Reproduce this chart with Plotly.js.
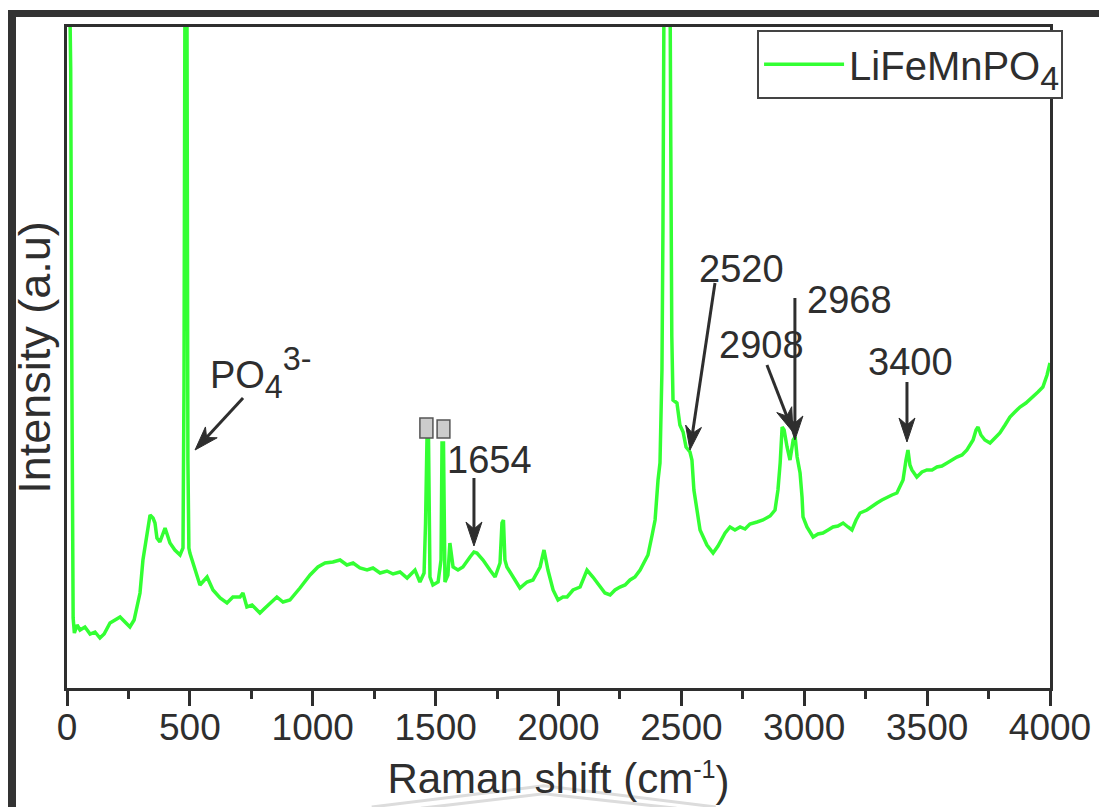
<!DOCTYPE html>
<html>
<head>
<meta charset="utf-8">
<script src="https://cdn.plot.ly/plotly-3.0.1.min.js"></script>
<style>
  html, body { margin: 0; padding: 0; background: #ffffff; }
  #wrap { position: relative; width: 1099px; height: 807px; overflow: hidden; }
  #chart { position: absolute; left: 0; top: 0; width: 1099px; height: 807px; }
  #frame { position: absolute; left: 8px; top: 10px; width: 1100px; height: 795px;
           border-left: 8px solid #333333; border-top: 7px solid #333333; border-bottom: 2px solid #555555;
           pointer-events: none; }
</style>
</head>
<body>
<div id="wrap">
  <div id="chart"></div>
  <div id="frame"></div>
</div>
<script>
// Raman shift (cm^-1)
const ramanShift = [
  0, 10, 15, 20, 25, 30, 41, 53, 73, 94, 114, 134, 151, 175, 195, 216, 236, 256, 273, 285,
  297, 309, 326, 338, 350, 358, 366, 378, 399, 419, 439, 460, 472, 476, 482, 488, 492, 496, 500, 521,
  541, 570, 594, 623, 651, 675, 704, 716, 732, 753, 785, 806, 826, 854, 879, 907, 948, 989, 1021, 1050,
  1082, 1111, 1139, 1164, 1192, 1221, 1245, 1274, 1302, 1327, 1355, 1384, 1416, 1436, 1453, 1459, 1465, 1471, 1477, 1489,
  1510, 1522, 1526, 1532, 1538, 1550, 1558, 1565, 1571, 1591, 1611, 1640, 1656, 1668, 1693, 1721, 1742, 1762, 1770, 1776,
  1782, 1790, 1815, 1843, 1872, 1896, 1925, 1941, 1957, 1978, 1998, 2018, 2035, 2059, 2088, 2116, 2140, 2169, 2189, 2210,
  2230, 2250, 2271, 2291, 2311, 2332, 2352, 2364, 2381, 2393, 2405, 2413, 2421, 2425, 2433, 2450, 2457, 2461, 2466, 2482,
  2494, 2507, 2519, 2535, 2543, 2551, 2576, 2604, 2629, 2649, 2678, 2698, 2718, 2739, 2759, 2779, 2808, 2832, 2861, 2881,
  2893, 2902, 2910, 2918, 2930, 2942, 2955, 2963, 2971, 2983, 2991, 2995, 3011, 3036, 3056, 3076, 3097, 3117, 3137, 3158,
  3178, 3194, 3211, 3227, 3255, 3276, 3296, 3316, 3337, 3357, 3377, 3402, 3414, 3422, 3430, 3438, 3458, 3479, 3499, 3520,
  3540, 3560, 3581, 3601, 3621, 3642, 3662, 3687, 3699, 3707, 3719, 3735, 3756, 3776, 3796, 3817, 3837, 3857, 3878, 3902,
  3931, 3951, 3971, 3988, 4000
];
// Intensity (a.u.)
const intensity = [
  900, 680, 620, 300, 70, 55, 63, 58, 61, 54, 56, 50, 54, 65, 68, 71, 66, 61, 68, 83,
  95, 128, 158, 173, 170, 165, 150, 146, 160, 145, 138, 133, 140, 300, 900, 700, 228, 140, 135, 118,
  103, 111, 98, 90, 85, 91, 91, 95, 81, 83, 75, 80, 85, 91, 86, 88, 100, 113, 121, 125,
  126, 128, 123, 125, 120, 118, 120, 115, 117, 114, 116, 110, 118, 106, 115, 165, 251, 251, 111, 103,
  106, 128, 245, 245, 106, 113, 145, 128, 121, 118, 121, 131, 136, 135, 128, 118, 111, 125, 165, 168,
  128, 121, 111, 100, 106, 108, 121, 138, 118, 98, 88, 91, 91, 98, 101, 118, 111, 101, 95, 93,
  98, 101, 103, 108, 111, 118, 128, 133, 153, 168, 208, 225, 318, 458, 900, 900, 541, 352, 288, 285,
  263, 256, 241, 236, 228, 198, 158, 143, 135, 142, 155, 161, 158, 161, 159, 164, 166, 168, 172, 178,
  198, 225, 261, 258, 241, 228, 248, 251, 231, 215, 191, 171, 161, 151, 154, 155, 158, 161, 162, 165,
  161, 158, 168, 175, 178, 182, 185, 188, 191, 193, 195, 208, 228, 238, 223, 218, 211, 216, 218, 218,
  221, 222, 225, 228, 231, 233, 238, 248, 258, 261, 253, 248, 245, 250, 255, 263, 271, 276, 281, 285,
  291, 296, 301, 313, 325
];
const seriesName = 'LiFeMnPO<sub>4</sub>';

// Peak annotations: label text, the point (x, intensity) the arrow points to, and label anchor
const peakLabels = ['PO<sub>4</sub><sup>3-</sup>', '1654', '2520', '2908', '2968', '3400'];
const peakArrowX = [521, 1656, 2535, 2954, 2962, 3418];
const peakArrowY = [238, 142, 238, 256, 248, 246];
const peakLabelX = [590, 1721, 2743, 2824, 3186, 3434];
const peakLabelY = [313, 228, 419, 343, 388, 326];

const ink = '#2e2e2e';
const fontFam = 'Arial, "Liberation Sans", sans-serif';

// ---- geometry / style (not data) ----
const W = 1099, H = 807;
const M = { l: 67, r: 49, t: 27, b: 119 };
const X_RANGE = [0, 4000], Y_RANGE = [0, 661];
const xPerPx = (X_RANGE[1] - X_RANGE[0]) / (W - M.l - M.r);
const yPerPx = (Y_RANGE[1] - Y_RANGE[0]) / (H - M.t - M.b);
// arrow tails (screen pixel offsets from the tip)
const tailAX = [48, 0, 25, -26, 0, 0];
const tailAY = [-52, -68, -167, -67, -142, -60];

const annotations = [];
const shapes = [];
const HEAD_L = 24, HEAD_W = 8, NOTCH = 7;
function toData(tx, ty, sx, sy) { return [tx + sx * xPerPx, ty - sy * yPerPx]; }
for (let i = 0; i < peakLabels.length; i++) {
  annotations.push({
    x: peakLabelX[i], y: peakLabelY[i], xref: 'x', yref: 'y',
    text: peakLabels[i], showarrow: false,
    xanchor: i === 0 ? 'left' : 'center', yanchor: 'middle',
    font: { family: fontFam, size: 38, color: ink }
  });
  // arrow: shaft + notched head, built from the tip and the tail offset
  const tx = peakArrowX[i], ty = peakArrowY[i];
  const dx = -tailAX[i], dy = -tailAY[i];
  const len = Math.hypot(dx, dy);
  const ux = dx / len, uy = dy / len;        // unit vector tail -> tip (screen)
  const nx = -uy, ny = ux;                    // normal
  const back = [-ux * HEAD_L, -uy * HEAD_L];
  const notch = [-ux * (HEAD_L - NOTCH), -uy * (HEAD_L - NOTCH)];
  const pL = toData(tx, ty, back[0] + nx * HEAD_W, back[1] + ny * HEAD_W);
  const pR = toData(tx, ty, back[0] - nx * HEAD_W, back[1] - ny * HEAD_W);
  const pN = toData(tx, ty, notch[0], notch[1]);
  const pT = toData(tx, ty, tailAX[i], tailAY[i]);
  shapes.push({
    type: 'line', xref: 'x', yref: 'y', x0: pT[0], y0: pT[1], x1: pN[0], y1: pN[1],
    line: { color: ink, width: 3 }
  });
  shapes.push({
    type: 'path', xref: 'x', yref: 'y',
    path: `M${tx},${ty} L${pL[0]},${pL[1]} L${pN[0]},${pN[1]} L${pR[0]},${pR[1]} Z`,
    fillcolor: ink, line: { color: ink, width: 1 }
  });
}
// the two unrendered-glyph boxes above the 1465 / 1530 peaks
shapes.push({ type: 'rect', xref: 'x', yref: 'y', x0: 1436, x1: 1489, y0: 250, y1: 270,
  fillcolor: '#cccccc', line: { color: '#555555', width: 1.5 } });
shapes.push({ type: 'rect', xref: 'x', yref: 'y', x0: 1506, x1: 1558, y0: 250, y1: 268,
  fillcolor: '#cccccc', line: { color: '#555555', width: 1.5 } });
// faint watermark chevrons behind the x title
const wm = [[0.31, -0.18, 0.485, -0.148, 0.66, -0.18], [0.36, -0.182, 0.485, -0.16, 0.62, -0.182]];
wm.forEach(p => {
  shapes.push({ type: 'path', xref: 'paper', yref: 'paper', layer: 'below',
    path: `M${p[0]},${p[1]} L${p[2]},${p[3]} L${p[4]},${p[5]}`,
    line: { color: '#dcdcdc', width: 3 } });
});

const trace = {
  x: ramanShift, y: intensity, type: 'scatter', mode: 'lines',
  name: seriesName,
  line: { color: '#33ff33', width: 3.5 },
  showlegend: true
};

const layout = {
  width: W, height: H,
  margin: { l: M.l, r: M.r, t: M.t, b: M.b, pad: 0 },
  paper_bgcolor: '#ffffff', plot_bgcolor: '#ffffff',
  showlegend: true,
  legend: {
    x: 0.702, y: 0.996, xanchor: 'left', yanchor: 'top',
    bgcolor: '#ffffff', bordercolor: '#444444', borderwidth: 2,
    font: { family: fontFam, size: 40, color: ink },
    itemwidth: 80
  },
  xaxis: {
    range: X_RANGE, dtick: 500, tick0: 0,
    showgrid: false, zeroline: false,
    showline: true, mirror: true, linecolor: ink, linewidth: 3,
    ticks: 'outside', ticklen: 15, tickwidth: 3, tickcolor: ink,
    minor: { dtick: 250, ticks: 'outside', ticklen: 8, tickwidth: 3, tickcolor: ink, showgrid: false },
    tickfont: { family: fontFam, size: 37, color: ink },
    ticklabelstandoff: -10,
    title: { text: 'Raman shift (cm<sup>-1</sup>)', font: { family: fontFam, size: 42, color: ink }, standoff: 0 },
    automargin: false
  },
  yaxis: {
    range: Y_RANGE,
    showgrid: false, zeroline: false,
    showline: true, mirror: true, linecolor: ink, linewidth: 3,
    ticks: '', showticklabels: false,
    title: { text: 'Intensity (a.u)', font: { family: fontFam, size: 45, color: ink }, standoff: 0 },
    automargin: false
  },
  annotations: annotations,
  shapes: shapes
};

function dyPx(el) {
  const v = el.getAttribute('dy');
  if (!v) return 0;
  const n = parseFloat(v);
  return /em$/.test(v) ? n * parseFloat(getComputedStyle(el).fontSize) : n;
}

Plotly.newPlot('chart', [trace], layout, { displayModeBar: false, staticPlot: true }).then(gd => {
  // drop empty placeholder texts
  gd.querySelectorAll('text').forEach(t => { if (!t.textContent.replace(/\u200b/g, '').trim()) t.remove(); });
  // give sub/superscripts an explicit pixel size (larger in legend / peak label, small in the axis title)
  gd.querySelectorAll('tspan').forEach(ts => {
    const st = ts.getAttribute('style') || '';
    if (/font-size:\s*[\d.]+%/.test(st)) {
      const parentPx = parseFloat(getComputedStyle(ts.parentNode).fontSize);
      const f = ts.closest('.xtitle') ? 0.6 : 0.85;
      ts.style.fontSize = (parentPx * f).toFixed(1) + 'px';
    }
  });
  // fold the zero-width baseline-reset tspans into whatever follows them
  gd.querySelectorAll('tspan').forEach(ts => {
    if (ts.textContent.replace(/\u200b/g, '').trim() === '' && ts.querySelector('tspan') === null) {
      let nxt = ts.nextSibling;
      if (nxt && nxt.nodeType === 3) {
        if (nxt.textContent.length) {
          const wrapEl = document.createElementNS('http://www.w3.org/2000/svg', 'tspan');
          wrapEl.textContent = nxt.textContent;
          nxt.parentNode.replaceChild(wrapEl, nxt);
          nxt = wrapEl;
        } else { nxt = ts.nextElementSibling; }
      }
      if (nxt && nxt.nodeType === 1 && nxt.tagName.toLowerCase() === 'tspan') {
        nxt.setAttribute('dy', String(dyPx(ts) + dyPx(nxt)));
      }
      ts.remove();
    }
  });
});
</script>
</body>
</html>
